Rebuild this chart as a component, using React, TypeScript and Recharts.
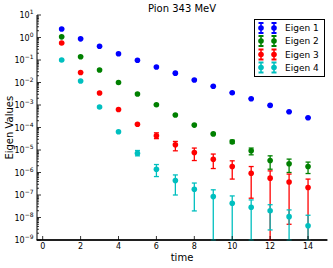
import React from 'react';
import { ComposedChart, Scatter, XAxis, YAxis, ErrorBar, Legend } from 'recharts';

const times = [1, 2, 3, 4, 5, 6, 7, 8, 9, 10, 11, 12, 13, 14];

const eigen1 = [2.4, 0.87, 0.41, 0.19, 0.098, 0.049, 0.026, 0.013, 0.0068, 0.0035, 0.0019, 0.00096, 0.0005, 0.00027];
const eigen1Low = eigen1;
const eigen1High = eigen1;

const eigen2 = [1.07, 0.14, 0.036, 0.01, 0.0031, 0.00103, 0.00036, 0.000128, 5.2e-5, 2.3e-5, 9.2e-6, 3.4e-6, 2.43e-6, 1.84e-6];
const eigen2Low = [1.07, 0.14, 0.036, 0.01, 0.0031, 0.00103, 0.00036, 0.000125, 5.0e-5, 1.95e-5, 6.1e-6, 1.4e-6, 1.0e-6, 9.0e-7];
const eigen2High = [1.07, 0.14, 0.036, 0.01, 0.0031, 0.00103, 0.00036, 0.000131, 5.4e-5, 2.75e-5, 1.22e-5, 5.5e-6, 3.94e-6, 2.9e-6];

const eigen3 = [0.57, 0.028, 0.0034, 0.00063, 0.00014, 4.3e-5, 1.7e-5, 7.7e-6, 3.9e-6, 1.84e-6, 9.3e-7, 5.6e-7, 3.8e-7, 2.14e-7];
const eigen3Low = [0.57, 0.028, 0.0034, 0.00063, 0.000135, 3.2e-5, 9.2e-6, 3.4e-6, 1.5e-6, 5.1e-7, 7.2e-8, 1e-9, 5.0e-9, 1e-9];
const eigen3High = [0.57, 0.028, 0.0034, 0.00063, 0.000145, 5.8e-5, 2.4e-5, 1.22e-5, 6.6e-6, 3.3e-6, 1.84e-6, 1.18e-6, 8.5e-7, 5.1e-7];

const eigen4 = [0.1, 0.0117, 0.00081, 6.5e-5, 7.2e-6, 1.4e-6, 4.4e-7, 1.8e-7, 8.5e-8, 4.3e-8, 2.86e-8, 2.0e-8, 1.09e-8, 4.3e-9];
const eigen4Low = [0.1, 0.0117, 0.00081, 6.5e-5, 5.5e-6, 6.6e-7, 1.0e-7, 1.96e-8, 1e-9, 1e-9, 1e-9, 2.8e-9, 1e-9, 1e-9];
const eigen4High = [0.1, 0.0117, 0.00081, 6.5e-5, 9.5e-6, 2.26e-6, 7.8e-7, 3.4e-7, 1.7e-7, 9.1e-8, 6.05e-8, 3.7e-8, 2.17e-8, 1.26e-8];

const seriesNames = ['Eigen 1', 'Eigen 2', 'Eigen 3', 'Eigen 4'];
const seriesColors = ['#0000ff', '#008000', '#ff0000', '#00bfbf'];

const xTicks = [0, 2, 4, 6, 8, 10, 12, 14];
const yMajorTicks = [1e-9, 1e-8, 1e-7, 1e-6, 1e-5, 1e-4, 1e-3, 1e-2, 1e-1, 1, 10];
const minorMultipliers = [2, 3, 4, 5, 6, 7, 8, 9];
const yMinorTicks = yMajorTicks.slice(0, -1).flatMap((m) => minorMultipliers.map((k) => k * m));
const yTicks = [...yMajorTicks, ...yMinorTicks].sort((a, b) => a - b);

const FONT = 'DejaVu Sans';

function build(values: number[], lows: number[], highs: number[]) {
  return times.map((t, i) => ({
    t,
    v: values[i],
    err: [values[i] - lows[i], highs[i] - values[i]],
  }));
}

const seriesData = [
  build(eigen1, eigen1Low, eigen1High),
  build(eigen2, eigen2Low, eigen2High),
  build(eigen3, eigen3Low, eigen3High),
  build(eigen4, eigen4Low, eigen4High),
];

const isMajor = (v: number) => {
  const e = Math.log10(v);
  return Math.abs(e - Math.round(e)) < 1e-6;
};

const LeftTick = (props: any) => {
  const { x, y, payload } = props;
  const v = payload.value;
  const major = isMajor(v);
  const exp = Math.round(Math.log10(v));
  const sup = exp < 0 ? '\u2212' + Math.abs(exp) : String(exp);
  return (
    <g>
      <line x1={x} x2={x + (major ? 4 : 2)} y1={y} y2={y} stroke="#000" strokeWidth={0.8} />
      {major && (
        <text x={x - 3.5} y={y + 3} textAnchor="end" fontSize={8} fontFamily={FONT} fill="#000">
          <tspan>10</tspan>
          <tspan dy={-4} fontSize={6}>{sup}</tspan>
        </text>
      )}
    </g>
  );
};

const RightTick = (props: any) => {
  const { x, y, payload } = props;
  const major = isMajor(payload.value);
  return <line x1={x} x2={x - (major ? 4 : 2)} y1={y} y2={y} stroke="#000" strokeWidth={0.8} />;
};

const BottomTick = (props: any) => {
  const { x, y, payload } = props;
  return (
    <g>
      <line x1={x} x2={x} y1={y} y2={y - 4} stroke="#000" strokeWidth={0.8} />
      <text x={x} y={y + 9} textAnchor="middle" fontSize={8} fontFamily={FONT} fill="#000">
        {payload.value}
      </text>
    </g>
  );
};

const TopTick = (props: any) => {
  const { x, y } = props;
  return <line x1={x} x2={x} y1={y} y2={y + 4} stroke="#000" strokeWidth={0.8} />;
};

const LegendMarker = ({ cx, cy, color }: { cx: number; cy: number; color: string }) => (
  <g>
    <line x1={cx} x2={cx} y1={cy - 5} y2={cy + 5} stroke={color} strokeWidth={1.5} />
    <line x1={cx - 2.5} x2={cx + 2.5} y1={cy - 5} y2={cy - 5} stroke={color} strokeWidth={2} />
    <line x1={cx - 2.5} x2={cx + 2.5} y1={cy + 5} y2={cy + 5} stroke={color} strokeWidth={2} />
    <circle cx={cx} cy={cy} r={2.8} fill={color} />
  </g>
);

const LegendContent = () => {
  const rows = [9, 22, 35.5, 48.5];
  return (
    <svg width={71} height={58} style={{ display: 'block' }}>
      <rect x={0.5} y={0.5} width={70} height={57} fill="#fff" stroke="#000" strokeWidth={1} />
      {seriesNames.map((name, i) => (
        <g key={name}>
          <LegendMarker cx={7} cy={rows[i]} color={seriesColors[i]} />
          <LegendMarker cx={20} cy={rows[i]} color={seriesColors[i]} />
          <text x={31} y={rows[i] + 3.2} fontSize={9} fontFamily={FONT} fill="#000">
            {name}
          </text>
        </g>
      ))}
    </svg>
  );
};

export default function App() {
  return (
    <div style={{ position: 'absolute', left: 0, top: 0, width: 333, height: 268, background: '#fff' }}>
      <ComposedChart
        width={333}
        height={268}
        margin={{ top: 15, right: 6, bottom: 0, left: 0 }}
        style={{ fontFamily: FONT }}
      >
        <XAxis
          xAxisId="bottom"
          dataKey="t"
          type="number"
          domain={[-0.3, 15]}
          allowDataOverflow
          ticks={xTicks}
          interval={0}
          height={28}
          tickSize={0}
          tickMargin={0}
          tickLine={false}
          tick={<BottomTick />}
          axisLine={{ stroke: '#000', strokeWidth: 1 }}
          label={{ value: 'time', position: 'insideBottom', offset: 7, fontSize: 10, fill: '#000', fontFamily: FONT }}
        />
        <XAxis
          xAxisId="top"
          orientation="top"
          type="number"
          domain={[-0.3, 15]}
          allowDataOverflow
          ticks={xTicks}
          interval={0}
          height={0}
          tickSize={0}
          tickMargin={0}
          tickLine={false}
          tick={<TopTick />}
          axisLine={{ stroke: '#000', strokeWidth: 1 }}
        />
        <YAxis
          yAxisId="left"
          dataKey="v"
          type="number"
          scale="log"
          domain={[1e-9, 10]}
          allowDataOverflow
          ticks={yTicks}
          interval={0}
          width={37}
          tickSize={0}
          tickMargin={0}
          tickLine={false}
          tick={<LeftTick />}
          axisLine={{ stroke: '#000', strokeWidth: 1 }}
        />
        <YAxis
          yAxisId="right"
          orientation="right"
          type="number"
          scale="log"
          domain={[1e-9, 10]}
          allowDataOverflow
          ticks={yTicks}
          interval={0}
          width={0}
          tickSize={0}
          tickMargin={0}
          tickLine={false}
          tick={<RightTick />}
          axisLine={{ stroke: '#000', strokeWidth: 1 }}
        />
        {seriesData.map((d, i) => (
          <Scatter
            key={seriesNames[i]}
            name={seriesNames[i]}
            data={d}
            xAxisId="bottom"
            yAxisId="left"
            fill={seriesColors[i]}
            isAnimationActive={false}
            shape={(p: any) => <circle cx={p.cx} cy={p.cy} r={2.8} fill={seriesColors[i]} />}
          >
            <ErrorBar dataKey="err" direction="y" width={2.5} strokeWidth={1.3} stroke={seriesColors[i]} isAnimationActive={false} />
          </Scatter>
        ))}
        <Legend
          layout="vertical"
          align="center"
          verticalAlign="middle"
          wrapperStyle={{ position: 'absolute', left: 254, top: 19, width: 71, height: 58 }}
          content={<LegendContent />}
        />
        <text x={182} y={12} textAnchor="middle" fontSize={10} fontFamily={FONT} fill="#000">
          Pion 343 MeV
        </text>
        <text
          x={13.5}
          y={127.7}
          transform="rotate(-90 13.5 127.7)"
          textAnchor="middle"
          fontSize={10}
          fontFamily={FONT}
          fill="#000"
        >
          Eigen Values
        </text>
        <line x1={36.5} x2={327.5} y1={240} y2={240} stroke="#000" strokeWidth={1.4} />
      </ComposedChart>
    </div>
  );
}
